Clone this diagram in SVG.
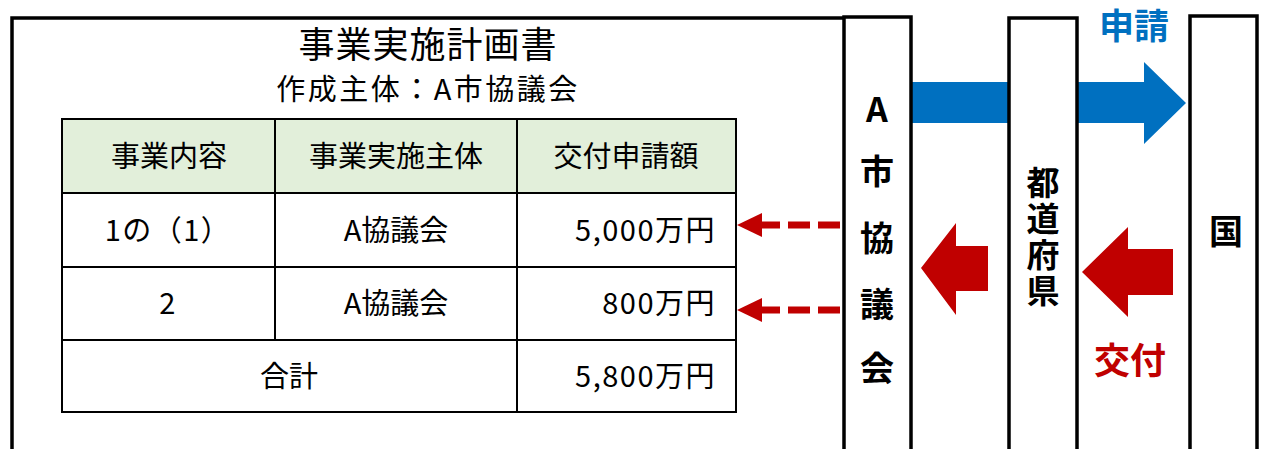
<svg xmlns="http://www.w3.org/2000/svg" width="1262" height="449" viewBox="0 0 1262 449">
<style>
text{font-family:"Noto Sans CJK JP","Noto Sans",sans-serif;fill:#000}
.t{font-size:29px}
.n{font-size:29px;letter-spacing:1.5px}
.b{font-weight:bold;font-size:34px}
.v{font-weight:bold;font-size:33px;writing-mode:vertical-rl;letter-spacing:3px}
.col{fill:#fff;stroke:#000;stroke-width:3.5}
.cell{fill:none;stroke:#000;stroke-width:2}
</style>
<rect width="1262" height="449" fill="#fff"/>
<g id="plan">
<path d="M12 460 V18 H845" fill="none" stroke="#000" stroke-width="3.5"/>
<text x="428" y="58" font-size="36" letter-spacing="1" text-anchor="middle">事業実施計画書</text>
<text x="428" y="100" font-size="29" letter-spacing="2.5" text-anchor="middle">作成主体：A市協議会</text>
</g>
<g id="table">
<rect x="62" y="119" width="674" height="74" fill="#E2EFDA"/>
<rect class="cell" x="62" y="119" width="674" height="293"/>
<path class="cell" d="M62 193H736M62 267H736M62 340H736M275 119V340M517 119V412"/>
<text class="t" x="169" y="167" text-anchor="middle">事業内容</text>
<text class="t" x="396" y="167" text-anchor="middle">事業実施主体</text>
<text class="t" x="626" y="167" text-anchor="middle">交付申請額</text>
<text class="n" x="168" y="241" text-anchor="middle">1の（1）</text>
<text class="t" x="396" y="241" text-anchor="middle">A協議会</text>
<text class="n" x="716" y="241" text-anchor="end">5,000万円</text>
<text class="n" x="168" y="314" text-anchor="middle">2</text>
<text class="t" x="396" y="314" text-anchor="middle">A協議会</text>
<text class="n" x="716" y="314" text-anchor="end">800万円</text>
<text class="t" x="289" y="387" text-anchor="middle">合計</text>
<text class="n" x="716" y="387" text-anchor="end">5,800万円</text>
</g>
<g id="connectors">
<polygon fill="#0070C0" points="911,82 1144,82 1144,62 1186,103 1144,144 1144,123 911,123"/>
<polygon fill="#C00000" points="921,268 956,223 956,246 988,246 988,291 956,291 956,315"/>
<polygon fill="#C00000" points="1082,272 1128,227 1128,249 1173,249 1173,295 1128,295 1128,317"/>
<path d="M840 225H758M840 310H758" stroke="#C00000" stroke-width="7" stroke-dasharray="22 8" fill="none"/>
<polygon fill="#C00000" points="737,225 762,213 762,237"/>
<polygon fill="#C00000" points="737,310 762,298 762,322"/>
<text x="1134" y="39" font-size="35" font-weight="bold" text-anchor="middle" style="fill:#0070C0">申請</text>
<text x="1130" y="374" font-size="36" font-weight="bold" text-anchor="middle" style="fill:#C00000">交付</text>
</g>
<g id="a-kyogikai">
<rect class="col" x="844" y="17" width="67" height="450"/>
<text class="b" x="877" y="122" text-anchor="middle">A</text>
<text class="b" x="877" y="184" text-anchor="middle">市</text>
<text class="b" x="877" y="251" text-anchor="middle">協</text>
<text class="b" x="877" y="317" text-anchor="middle">議</text>
<text class="b" x="877" y="381" text-anchor="middle">会</text>
</g>
<g id="todofuken">
<rect class="col" x="1009" y="18" width="68" height="450"/>
<text class="v" x="1043" y="166">都道府県</text>
</g>
<g id="kuni">
<rect class="col" x="1190" y="16" width="67" height="450"/>
<text class="b" x="1226" y="244" text-anchor="middle">国</text>
</g>
</svg>
